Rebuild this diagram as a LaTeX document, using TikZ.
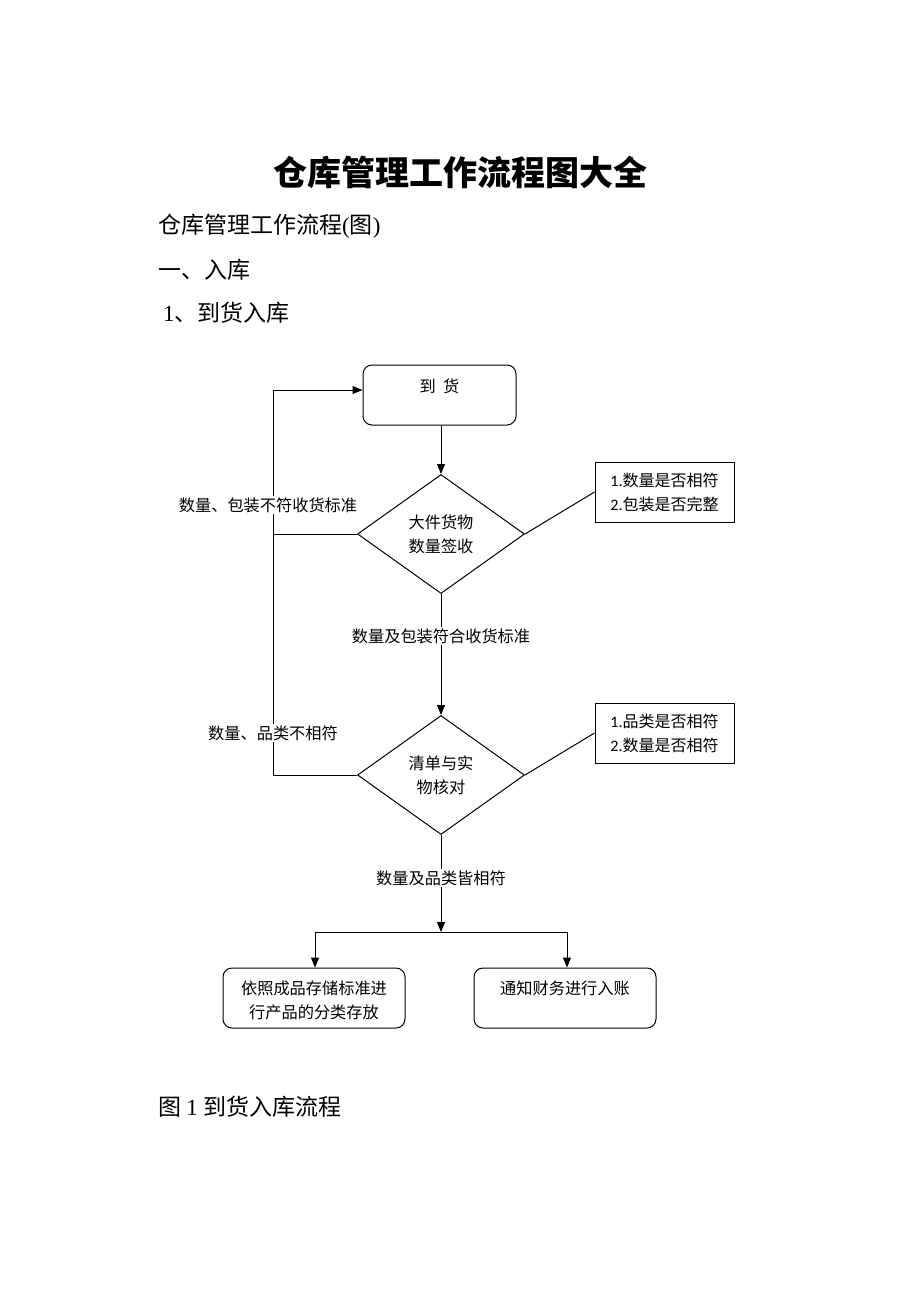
\documentclass[tikz,border=0pt]{standalone}
\usepackage{fontspec}
\newfontfamily\cjk{Noto Sans CJK SC}
\newfontfamily\latinserif{Liberation Serif}
\newfontfamily\calfont{Carlito}
\usetikzlibrary{shapes.geometric,arrows.meta}
\begin{document}
\begin{tikzpicture}[x=1pt,y=-1pt,
  every node/.style={font=\cjk},
  ln/.style={line width=1pt,draw=black},
  arr/.style={ln,-{Triangle[length=10pt,width=8pt]}},
  rbox/.style={draw,line width=1pt,rounded corners=9pt,inner sep=0pt},
  sbox/.style={draw,line width=1pt,inner sep=0pt,minimum width=139pt,minimum height=60pt},
  dia/.style={draw,line width=1pt,diamond,inner sep=0pt,minimum width=167pt,minimum height=119pt},
  lbl/.style={fill=white,inner sep=1.5pt,font=\cjk\fontsize{16.2}{18}\selectfont},
  dtxt/.style={font=\cjk\fontsize{16.2}{24}\selectfont,align=center},
  btxt/.style={font=\cjk\fontsize{16}{24}\selectfont,align=left},
  head/.style={anchor=west,inner sep=0pt,font=\cjk\fontsize{23}{26}\selectfont}]
\useasboundingbox (0,0) rectangle (920,1302);
\fill[white] (0,0) rectangle (920,1302);
% headings
\node[inner sep=0pt,font=\cjk\bfseries\fontsize{34}{38}\selectfont] (title) at (460,172) {仓库管理工作流程图大全};
\node[head] (h1) at (158,226) {仓库管理工作流程{\latinserif(}图{\latinserif)}};
\node[head] (h2) at (158,270) {一、入库};
\node[head] (h3) at (163,313) {{\latinserif 1}、到货入库};
\node[head] (cap) at (158,1107) {图 {\latinserif 1} 到货入库流程};
% nodes
\node[rbox,minimum width=153pt,minimum height=60pt] (arrive) at (439.5,395) {};
\node[dtxt] (arrivet) at (439.5,386) {到\ \ 货};
\node[dia,dtxt] (d1) at (441,534) {大件货物\\数量签收};
\node[dia,dtxt] (d2) at (441,775) {清单与实\\物核对};
\node[sbox] (b1) at (664.5,492) {};
\node[btxt] (b1t) at (b1.center) {{\calfont 1.}数量是否相符\\{\calfont 2.}包装是否完整};
\node[sbox] (b2) at (664.5,733) {};
\node[btxt] (b2t) at (b2.center) {{\calfont 1.}品类是否相符\\{\calfont 2.}数量是否相符};
\node[rbox,minimum width=182pt,minimum height=60pt] (s1) at (314,998) {};
\node[dtxt] (s1t) at (314,1000) {依照成品存储标准进\\行产品的分类存放};
\node[rbox,minimum width=182pt,minimum height=60pt] (s2) at (565,998) {};
\node[dtxt] (s2t) at (565,988) {通知财务进行入账};
% coordinates
\coordinate (fb1) at (273,534);
\coordinate (fb2) at (273,775);
\coordinate (fbtop) at (273,390);
\coordinate (split) at (441,932);
\coordinate (sl) at (315,932);
\coordinate (sr) at (567,932);
% connectors
\draw[arr] (arrive.south -| d1.north) -- (d1.north);
\draw[ln] (d1.east) -- (b1.west);
\draw[ln] (d2.east) -- (b2.west);
\draw[arr] (d1.south) -- (d2.north);
\draw[arr] (d2.south) -- (split);
\draw[ln] (d2.west) -- (fb2) -- (fbtop);
\draw[ln] (d1.west) -- (fb1);
\draw[arr] (fbtop) -- (fbtop -| arrive.west);
\draw[ln] (sl) -- (sr);
\draw[arr] (sl) -- (sl |- s1.north);
\draw[arr] (sr) -- (sr |- s2.north);
% labels
\node[lbl] (l1) at (268,505) {数量、包装不符收货标准};
\node[lbl] (l2) at (273,733) {数量、品类不相符};
\node[lbl] (l3) at (441,636) {数量及包装符合收货标准};
\node[lbl] (l4) at (441,878) {数量及品类皆相符};
\end{tikzpicture}
\end{document}
